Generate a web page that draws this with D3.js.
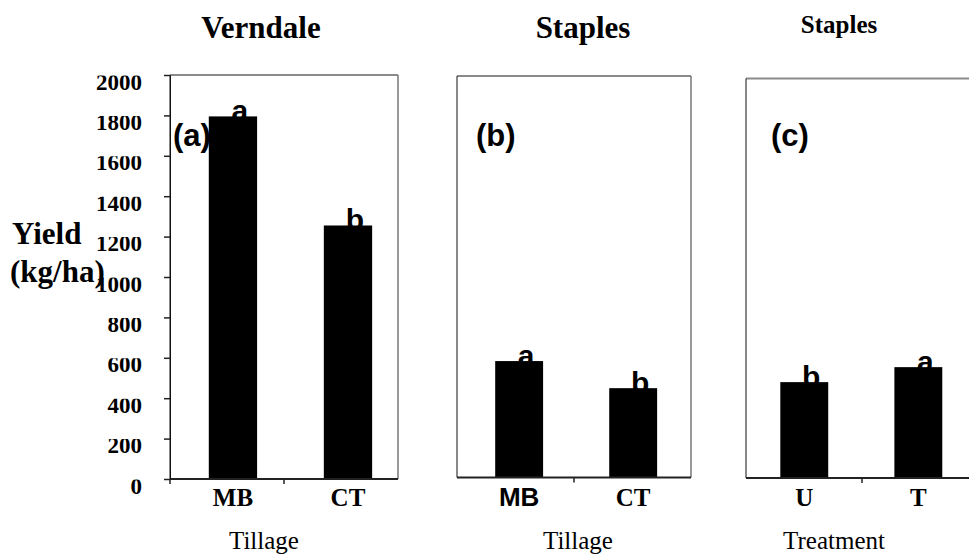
<!DOCTYPE html>
<html>
<head>
<meta charset="utf-8">
<script src="https://cdn.jsdelivr.net/npm/d3@7"></script>
<style>
  body { margin: 0; background: #fff; }
  svg { display: block; }
</style>
</head>
<body>
<svg width="969" height="555"></svg>
<script>
// chart values
var siteNames = ["Verndale", "Staples", "Staples"];
var axisTitles = ["Tillage", "Tillage", "Treatment"];
var panelTags = ["(a)", "(b)", "(c)"];

var verndaleCats = ["MB", "CT"];
var verndaleYield = [1795, 1255];
var verndaleLetters = ["a", "b"];

var staplesTillCats = ["MB", "CT"];
var staplesTillYield = [580, 445];
var staplesTillLetters = ["a", "b"];

var staplesTrtCats = ["U", "T"];
var staplesTrtYield = [480, 555];
var staplesTrtLetters = ["b", "a"];

var yTicks = [0, 200, 400, 600, 800, 1000, 1200, 1400, 1600, 1800, 2000];
var yMax = 2000;

var serif = "'Liberation Serif', 'Times New Roman', serif",
    sans = "'Liberation Sans', Arial, sans-serif";

// panel layout
var layout = [
  { x0: 170, x1: 398, y0: 75, y1: 479, outer: 0.281, align: 0.6,
    titleX: 261, titleY: 38, titleSize: 31, tagX: 173, axisX: 264,
    yAxis: true, catFam: [serif, serif] },
  { x0: 457, x1: 691, y0: 76, y1: 477.5, outer: 0.316, align: 0.53,
    titleX: 583, titleY: 38, titleSize: 31, tagX: 476, axisX: 578,
    yAxis: false, catFam: [sans, serif] },
  { x0: 746, x1: 978, y0: 78.5, y1: 478, outer: 0.307, align: 0.49,
    titleX: 839, titleY: 33, titleSize: 25, tagX: 771, axisX: 834,
    yAxis: false, catFam: [serif, serif] }
];

var panelData = [
  { cats: verndaleCats, vals: verndaleYield, letters: verndaleLetters },
  { cats: staplesTillCats, vals: staplesTillYield, letters: staplesTillLetters },
  { cats: staplesTrtCats, vals: staplesTrtYield, letters: staplesTrtLetters }
];

var svg = d3.select("svg");

// clip that flattens the top of the y tick labels, like the original
svg.append("defs").append("clipPath")
    .attr("id", "tickclip")
    .attr("clipPathUnits", "userSpaceOnUse")
  .append("rect")
    .attr("x", -80).attr("y", 0).attr("width", 80).attr("height", 30);

layout.forEach(function(L, i) {
  var d = panelData[i];
  var g = svg.append("g");

  var x = d3.scaleBand()
      .domain(d.cats)
      .range([L.x0, L.x1])
      .paddingInner(0.58)
      .paddingOuter(L.outer)
      .align(L.align);

  var y = d3.scaleLinear()
      .domain([0, yMax])
      .range([L.y1, L.y0]);

  // site title
  g.append("text")
      .attr("x", L.titleX).attr("y", L.titleY)
      .attr("text-anchor", "middle")
      .style("font-family", serif).style("font-weight", "bold")
      .style("font-size", L.titleSize + "px")
      .text(siteNames[i]);

  // panel tag (bars are drawn over it)
  g.append("text")
      .attr("x", L.tagX).attr("y", 146)
      .style("font-family", sans).style("font-weight", "bold")
      .style("font-size", "31px")
      .text(panelTags[i]);

  var rows = d.cats.map(function(c, j) { return { cat: c, val: d.vals[j], letter: d.letters[j] }; });

  // significance letters, partly hidden behind bar tops
  g.selectAll(".letter")
    .data(rows)
    .enter().append("text")
      .attr("class", "letter")
      .attr("x", function(r) { return x(r.cat) + x.bandwidth() / 2 + 7; })
      .attr("y", function(r) { return y(r.val) + 5; })
      .attr("text-anchor", "middle")
      .style("font-family", sans).style("font-weight", "bold")
      .style("font-size", "30px")
      .text(function(r) { return r.letter; });

  g.selectAll(".bar")
    .data(rows)
    .enter().append("rect")
      .attr("class", "bar")
      .attr("x", function(r) { return x(r.cat); })
      .attr("width", x.bandwidth())
      .attr("y", function(r) { return y(r.val); })
      .attr("height", function(r) { return L.y1 - y(r.val); })
      .attr("fill", "#000");

  // frame: grey top and right, dark left and bottom
  g.append("line")
      .attr("x1", L.x0).attr("x2", L.x1).attr("y1", L.y0).attr("y2", L.y0)
      .attr("stroke", "#8a8a8a").attr("stroke-width", 2);
  g.append("line")
      .attr("x1", L.x1).attr("x2", L.x1).attr("y1", L.y0).attr("y2", L.y1)
      .attr("stroke", "#777").attr("stroke-width", 1.5);
  g.append("line")
      .attr("x1", L.x0).attr("x2", L.x0).attr("y1", L.y0).attr("y2", L.y1)
      .attr("stroke", "#111").attr("stroke-width", 1);
  g.append("line")
      .attr("x1", L.x0).attr("x2", L.x1).attr("y1", L.y1).attr("y2", L.y1)
      .attr("stroke", "#222").attr("stroke-width", 2);

  // category divider ticks under the axis
  var tickXs = [(L.x0 + L.x1) / 2];
  if (L.yAxis) tickXs.unshift(L.x0);
  g.selectAll(".xtick")
    .data(tickXs)
    .enter().append("line")
      .attr("class", "xtick")
      .attr("x1", function(t) { return t; }).attr("x2", function(t) { return t; })
      .attr("y1", L.y1).attr("y2", L.y1 + 5)
      .attr("stroke", "#222").attr("stroke-width", 1.5);

  // category labels
  g.selectAll(".cat")
    .data(rows)
    .enter().append("text")
      .attr("class", "cat")
      .attr("x", function(r) { return x(r.cat) + x.bandwidth() / 2; })
      .attr("y", 506)
      .attr("text-anchor", "middle")
      .style("font-family", function(r, j) { return L.catFam[j]; })
      .style("font-weight", "bold")
      .style("font-size", function(r, j) { return L.catFam[j] === sans ? "26px" : "25px"; })
      .text(function(r) { return r.cat; });

  // x axis title
  g.append("text")
      .attr("x", L.axisX).attr("y", 549)
      .attr("text-anchor", "middle")
      .style("font-family", serif)
      .style("font-size", "25px")
      .text(axisTitles[i]);

  if (L.yAxis) {
    var ya = g.append("g")
        .attr("transform", "translate(" + L.x0 + ",0)")
        .call(d3.axisLeft(y).tickValues(yTicks).tickSize(6).tickSizeOuter(0).tickFormat(d3.format("d")));
    ya.select(".domain").attr("stroke", "#111");
    ya.selectAll(".tick line").attr("stroke", "#222").attr("stroke-width", 1.5);
    ya.selectAll(".tick text")
        .attr("x", -28).attr("y", 14).attr("dy", 0)
        .attr("clip-path", "url(#tickclip)")
        .style("font-family", serif).style("font-weight", "bold")
        .style("font-size", "23px").attr("fill", "#000");
  }
});

// y axis title
var yt = svg.append("text")
    .style("font-family", serif).style("font-weight", "bold")
    .style("font-size", "31px");
yt.append("tspan").attr("x", 12).attr("y", 244).text("Yield");
yt.append("tspan").attr("x", 10).attr("y", 282).text("(kg/ha)");
</script>
</body>
</html>
